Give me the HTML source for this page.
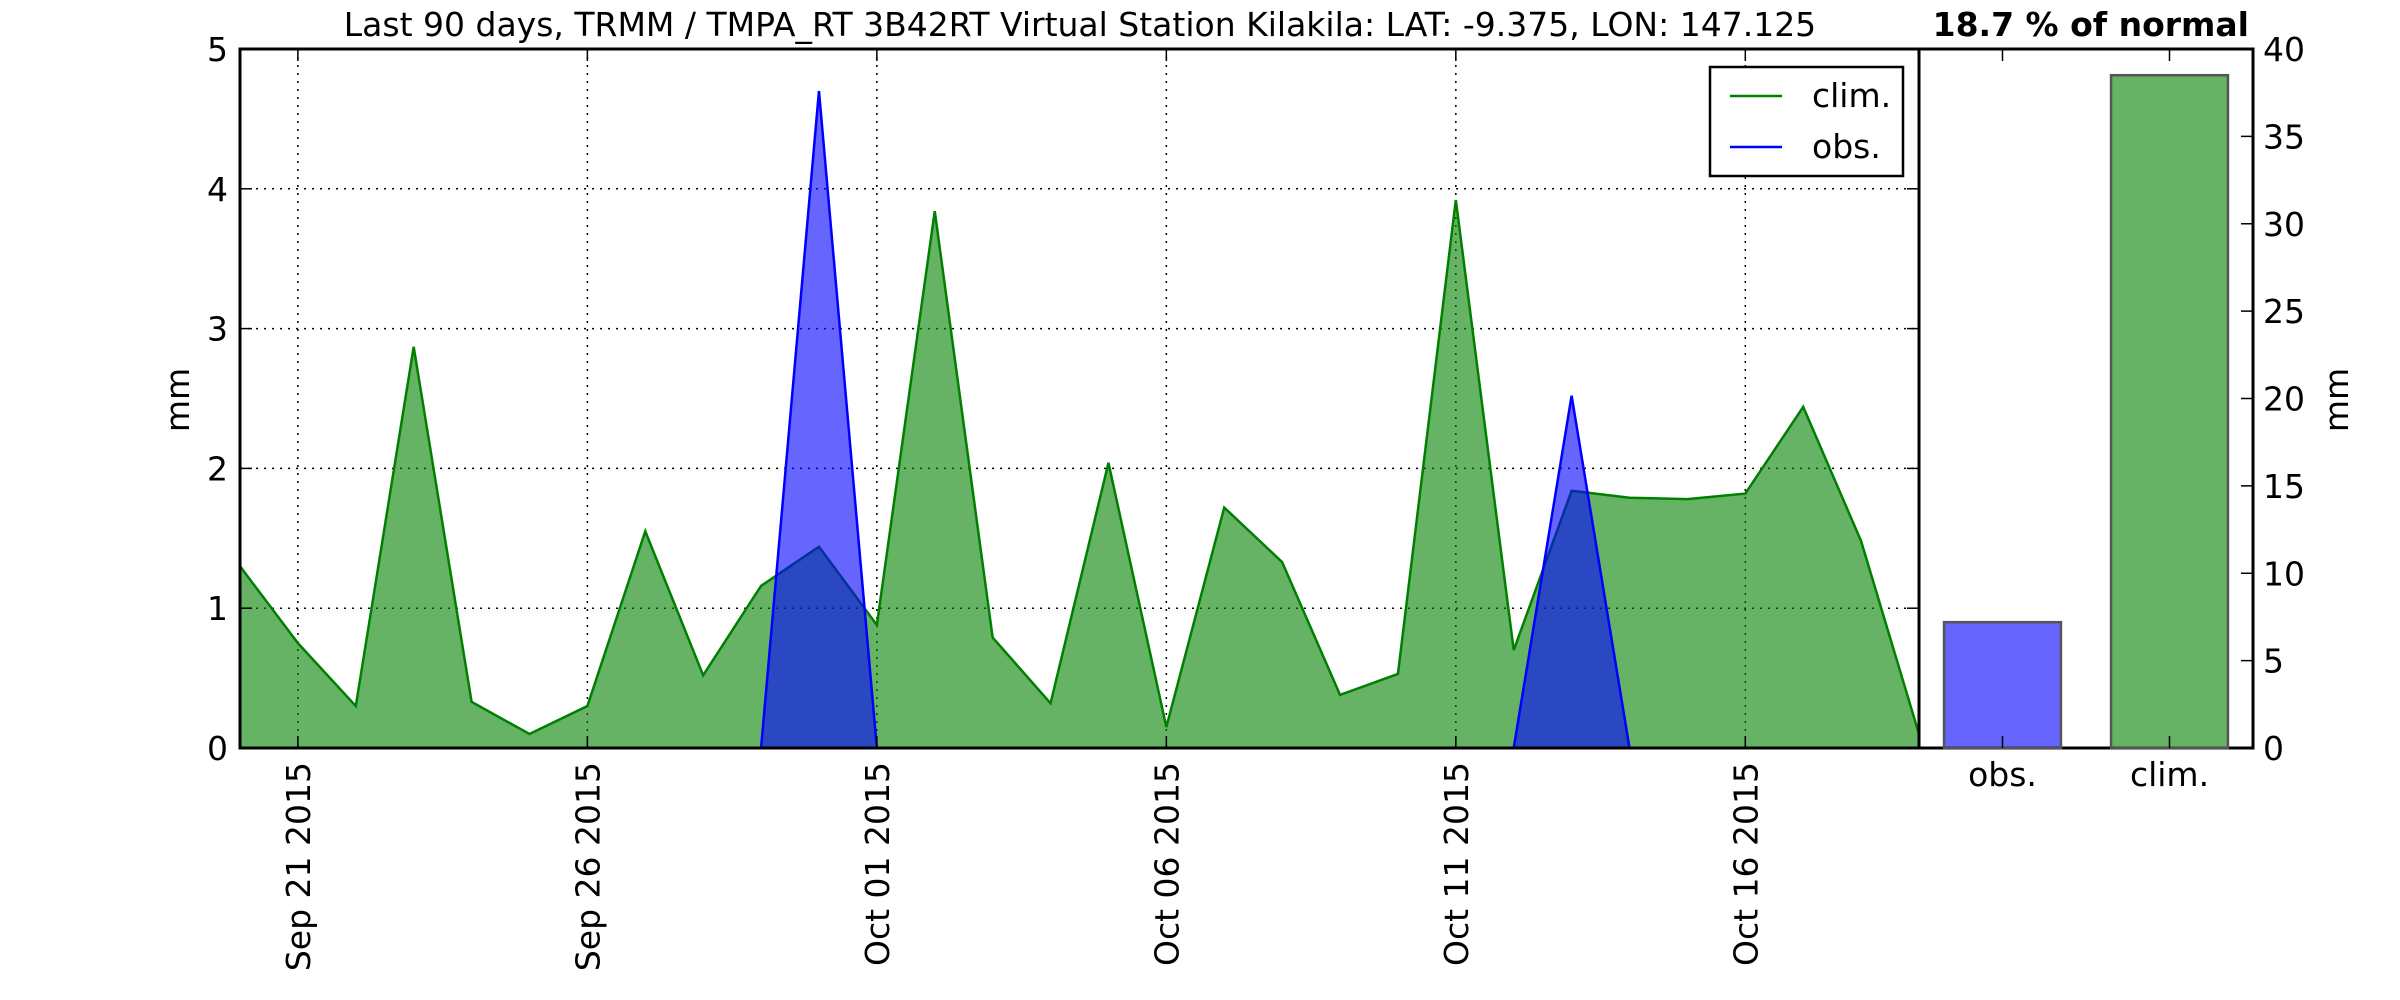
<!DOCTYPE html>
<html><head><meta charset="utf-8"><style>
html,body{margin:0;padding:0;background:#fff;width:2400px;height:1000px;overflow:hidden}
svg text{font-family:"DejaVu Sans","Liberation Sans",sans-serif;fill:#000}
</style></head><body>
<svg id="chart" width="2400" height="1000" xmlns="http://www.w3.org/2000/svg"></svg>
<script>
const dayLabels = ["Sep 21 2015","Sep 26 2015","Oct 01 2015","Oct 06 2015","Oct 11 2015","Oct 16 2015"];
const dayLabelIdx = [1,6,11,16,21,26];
const climValues = [1.3,0.75,0.3,2.87,0.33,0.1,0.3,1.55,0.52,1.16,1.44,0.88,3.84,0.79,0.32,2.04,0.15,1.72,1.33,0.38,0.53,3.92,0.7,1.84,1.79,1.78,1.82,2.44,1.48,0.1];
const obsValues = [0,0,0,0,0,0,0,0,0,0,4.7,0,0,0,0,0,0,0,0,0,0,0,0,2.52,0,0,0,0,0,0];
const yTicks = [0,1,2,3,4,5];
const barCats = ["obs.","clim."];
const barValues = [7.2,38.5];
const barTicks = [0,5,10,15,20,25,30,35,40];

const NS="http://www.w3.org/2000/svg";
const svg=document.getElementById('chart');
function mk(tag,attrs,parent){const e=document.createElementNS(NS,tag);for(const k in attrs)e.setAttribute(k,attrs[k]);(parent||svg).appendChild(e);return e;}
const L=240,R=1919,T=49,B=748,BR=2253;
const FS=33;
const xs=i=>L+(R-L)*i/(climValues.length-1);
const ys=v=>B-(B-T)*v/5;
const bx=c=>R+(BR-R)*(c+0.5)/2;
const by=v=>B-(B-T)*v/40;

yTicks.forEach(t=>{const g=mk('line',{x1:L,x2:R,y1:ys(t),y2:ys(t),stroke:'#000','stroke-width':1.5,'stroke-dasharray':'2,6'});

});
dayLabelIdx.forEach(i=>{const g=mk('line',{x1:xs(i),x2:xs(i),y1:T,y2:B,stroke:'#000','stroke-width':1.5,'stroke-dasharray':'2,6'});

});

function area(vals,color,name){
  let d='M'+xs(0)+','+ys(0);
  vals.forEach((v,i)=>d+=' L'+xs(i)+','+ys(v));
  d+=' L'+xs(vals.length-1)+','+ys(0)+' Z';
  const a=mk('path',{d:d,fill:color,'fill-opacity':0.6,stroke:'none'});
  
  
  let ld='';vals.forEach((v,i)=>ld+=(i?' L':'M')+xs(i)+','+ys(v));
  const l=mk('path',{d:ld,fill:'none',stroke:color,'stroke-width':2.5});
  
  
}
area(climValues,'#008000','clim');
area(obsValues,'#0000ff','obs');

const f1=mk('rect',{x:L,y:T,width:R-L,height:B-T,fill:'none',stroke:'#000','stroke-width':3});


const f2=mk('rect',{x:R,y:T,width:BR-R,height:B-T,fill:'none',stroke:'#000','stroke-width':3});



yTicks.forEach(t=>{
  mk('line',{x1:L,x2:L+12,y1:ys(t),y2:ys(t),stroke:'#000','stroke-width':1.5});
  mk('line',{x1:R-12,x2:R,y1:ys(t),y2:ys(t),stroke:'#000','stroke-width':1.5});
  const tx=mk('text',{x:L-12,y:ys(t)+12,'font-size':FS,'text-anchor':'end'});tx.textContent=t;
  
  
});
dayLabelIdx.forEach((i,k)=>{
  mk('line',{x1:xs(i),x2:xs(i),y1:B-12,y2:B,stroke:'#000','stroke-width':1.5});
  mk('line',{x1:xs(i),x2:xs(i),y1:T,y2:T+12,stroke:'#000','stroke-width':1.5});
  const tx=mk('text',{x:0,y:0,'font-size':FS,'text-anchor':'end',transform:'translate('+(xs(i)+12)+','+(B+14)+') rotate(-90)'});
  tx.textContent=dayLabels[k];
  
  
});
barValues.forEach((v,i)=>{
  const w=(BR-R)/2*0.7;
  const r=mk('rect',{x:bx(i)-w/2,y:by(v),width:w,height:B-by(v),fill:i?'#008000':'#0000ff','fill-opacity':0.6,stroke:'#555','stroke-width':2.5});
  
  
  mk('line',{x1:bx(i),x2:bx(i),y1:T,y2:T+12,stroke:'#000','stroke-width':1.5});
  mk('line',{x1:bx(i),x2:bx(i),y1:B-12,y2:B,stroke:'#000','stroke-width':1.5});
  const tx=mk('text',{x:bx(i),y:B+38,'font-size':FS,'text-anchor':'middle'});tx.textContent=barCats[i];
  
  
});
barTicks.forEach(t=>{
  mk('line',{x1:BR-12,x2:BR,y1:by(t),y2:by(t),stroke:'#000','stroke-width':1.5});
  const tx=mk('text',{x:BR+10,y:by(t)+12,'font-size':FS,'text-anchor':'start'});tx.textContent=t;
  
  
});
</script>
<svg x="0" y="0" width="2400" height="1000" style="position:absolute;left:0;top:0" xmlns="http://www.w3.org/2000/svg">
  <text x="1080" y="36" font-size="33" text-anchor="middle">Last 90 days, TRMM / TMPA_RT 3B42RT Virtual Station Kilakila: LAT: -9.375, LON: 147.125</text>
  <text x="2249" y="36" font-size="33" font-weight="bold" text-anchor="end">18.7 % of normal</text>
  <text transform="translate(189,400) rotate(-90)" font-size="33" text-anchor="middle">mm</text>
  <text transform="translate(2348,400) rotate(-90)" font-size="33" text-anchor="middle">mm</text>
  <g>
    <rect x="1710" y="67" width="193" height="109" fill="#fff" stroke="#000" stroke-width="2.5"/>
    <line x1="1730" x2="1782" y1="96" y2="96" stroke="#008000" stroke-width="2.5"/>
    <text x="1812" y="107" font-size="33">clim.</text>
    <line x1="1730" x2="1782" y1="147" y2="147" stroke="#0000ff" stroke-width="2.5"/>
    <text x="1812" y="158" font-size="33">obs.</text>
  </g>
</svg>
</body></html>
